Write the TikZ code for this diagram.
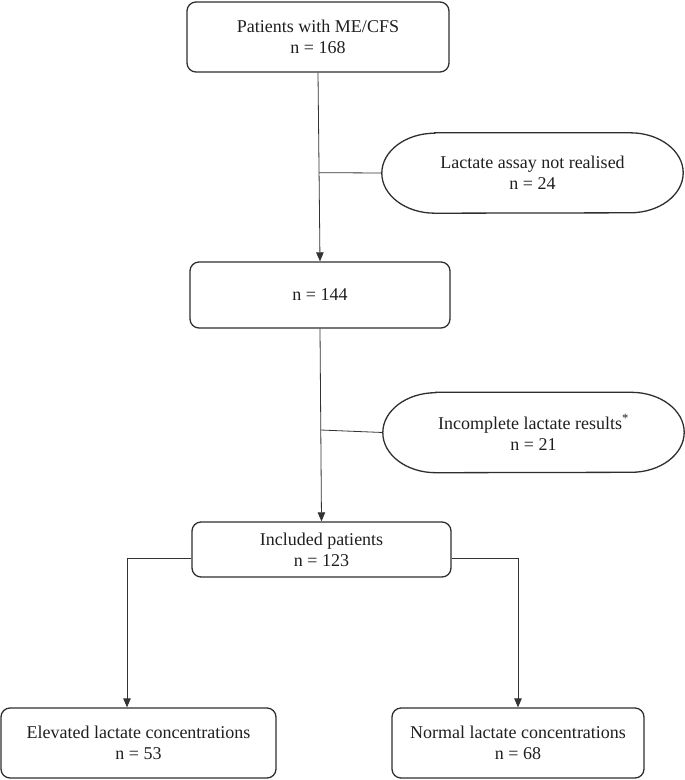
\documentclass[tikz,border=0pt]{standalone}
\usepackage{fontspec}
\setmainfont{Liberation Serif}
\usepackage{tikz}
\usetikzlibrary{arrows.meta, calc}

% outline of a box with half-elliptic ends
\newcommand{\ovaloutline}[1]{%
  \draw[boxline] ([xshift=53pt]#1.north west) -- ([xshift=-53pt]#1.north east)
    arc[start angle=90, end angle=-90, x radius=53pt, y radius=40pt]
    -- ([xshift=53pt]#1.south west)
    arc[start angle=270, end angle=90, x radius=53pt, y radius=40pt] -- cycle;}

\begin{document}
\begin{tikzpicture}[x=1pt, y=1pt,
    boxline/.style={line width=1.3pt, draw=black!82},
    flowbox/.style={boxline, rounded corners=9pt, inner sep=0pt, align=center,
      font=\fontsize{18}{21}\selectfont, text=black!88},
    ovalbox/.style={draw=none, inner sep=0pt, minimum width=301pt, minimum height=80pt,
      align=center, font=\fontsize{18}{21}\selectfont, text=black!88},
    link/.style={line width=0.8pt, draw=black!80},
    arr/.style={link, -{Triangle[length=9pt, width=7.5pt]}}]
    \useasboundingbox (0,0) rectangle (685,-780);

    \node[flowbox, minimum width=262pt, minimum height=70pt] (total) at (318,-37)
      {Patients with ME/CFS\\n = 168};
    \node[ovalbox] (noassay) at (532.5,-173) {Lactate assay not realised\\n = 24};
    \ovaloutline{noassay}
    \node[flowbox, minimum width=260pt, minimum height=66pt] (assayed) at (320,-295)
      {n = 144};
    \node[ovalbox] (incomplete) at (533.5,-432.5)
      {Incomplete lactate results\textsuperscript{*}\\n = 21};
    \ovaloutline{incomplete}
    \node[flowbox, minimum width=259pt, minimum height=55pt] (included) at (321.5,-549.5)
      {Included patients\\n = 123};
    \node[flowbox, minimum width=275pt, minimum height=70pt] (elevated) at (138.5,-743)
      {Elevated lactate concentrations\\n = 53};
    \node[flowbox, minimum width=252pt, minimum height=70pt] (normal) at (518,-743)
      {Normal lactate concentrations\\n = 68};

    % main line with the two exclusions
    \coordinate (out1) at ($(total.south)!0.53!(assayed.north)$);
    \coordinate (out2) at ($(assayed.south)!0.526!(included.north)$);
    \draw[arr] (total.south) -- (assayed.north);
    \draw[link] (out1) -- (noassay.west);
    \draw[arr] (assayed.south) -- (included.north);
    \draw[link] (out2) -- (incomplete.west);

    % split into the two groups
    \draw[arr] ([yshift=-9pt]included.west) -| ([xshift=-11.5pt]elevated.north);
    \draw[arr] ([yshift=-9pt]included.east) -| (normal.north);
\end{tikzpicture}
\end{document}
